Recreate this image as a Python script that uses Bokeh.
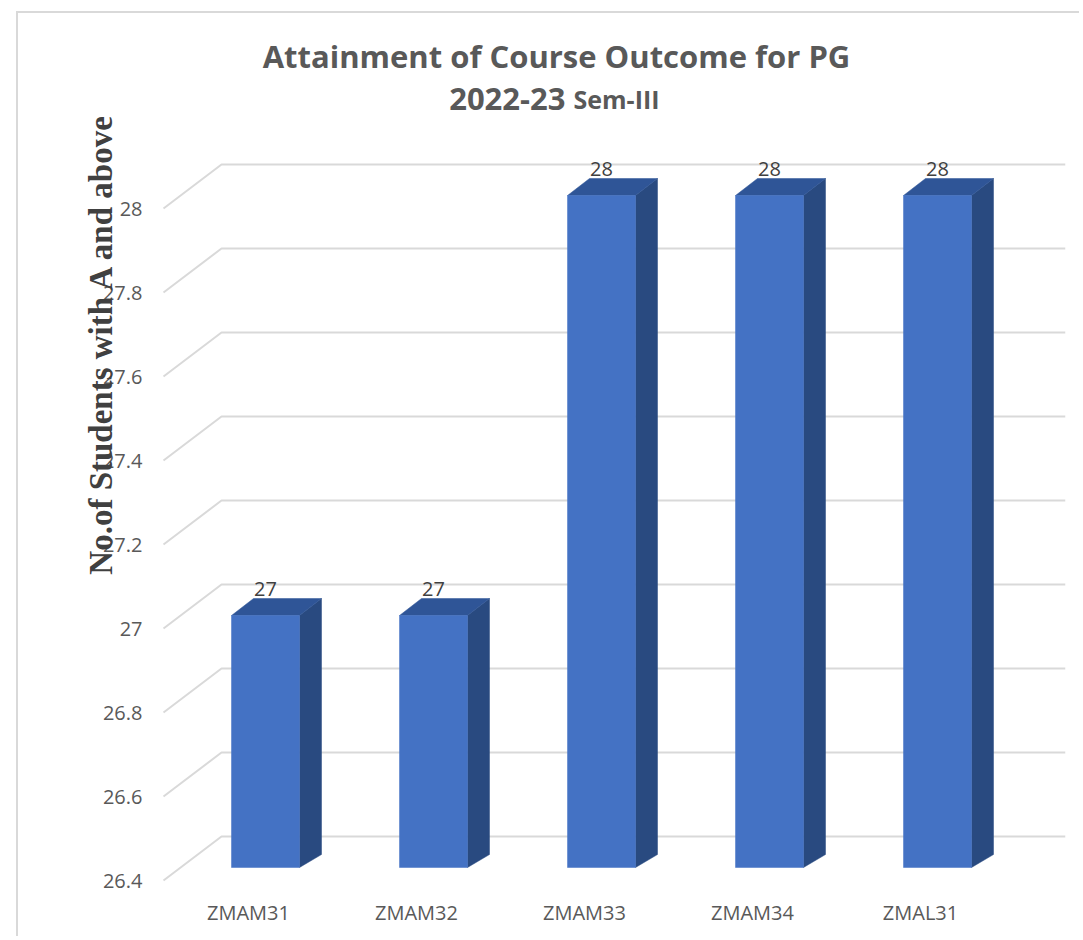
import math
from bokeh.plotting import figure
from bokeh.models import Label, FixedTicker, ColumnDataSource, Range1d
from bokeh.embed import file_html
from bokeh.resources import INLINE
from bokeh.core.properties import value

# ---------------- data ----------------
categories = ["ZMAM31", "ZMAM32", "ZMAM33", "ZMAM34", "ZMAL31"]
students = [27, 27, 28, 28, 28]
y_ticks = [26.4, 26.6, 26.8, 27.0, 27.2, 27.4, 27.6, 27.8, 28.0]
y_tick_labels = ["26.4", "26.6", "26.8", "27", "27.2", "27.4", "27.6", "27.8", "28"]
title_line1 = "Attainment of Course Outcome for PG"
title_year = "2022-23"
title_sem = "Sem-III"
y_title = "No.of Students with A  and above"

# ---------------- page layout (pixels) ----------------
CANVAS_X, CANVAS_Y = 18, 13          # page position of the canvas
W, H = 1063, 925
PX0, PXU = 248, 168                  # page x of category 0, px per category
PY0, PYU = 880, 420                  # page y of axis minimum, px per unit
Y_MIN = y_ticks[0]
FRAME_LEFT, FRAME_RIGHT, FRAME_TOP, FRAME_BOTTOM = 78, 1065, 13, 896
BASE_FIX = 11                        # svg alphabetic-baseline correction (px)


def ux(px):
    return (px - PX0) / PXU


def uy(py):
    return Y_MIN + (PY0 - py) / PYU


X_START, X_END = ux(FRAME_LEFT), ux(FRAME_RIGHT)
Y_START, Y_TOP = uy(FRAME_BOTTOM), uy(FRAME_TOP)
X_FRONT = ux(163)                    # front edge of the floor / grid diagonals
Y_AXIS_AT = ux(142)                  # right edge of the y tick labels

# 3D geometry (axis units)
BACK_DX, BACK_DY = 58 / PXU, 44 / PYU
BAR_DX, BAR_DY = 17 / PXU, 13 / PYU
BAR_HALF = 34 / PXU
SIDE_DX, TOP_DY, BOTTOM_DY = 22 / PXU, 17 / PYU, 13 / PYU
FRONT = "#4472C4"
TOP = "#2F5597"
SIDE = "#294A80"
GRID = "#D9D9D9"
TXT = "#595959"

p = figure(width=W, height=H, output_backend="svg", toolbar_location=None,
           x_range=Range1d(X_START, X_END), y_range=Range1d(Y_START, Y_TOP),
           min_border=0,
           min_border_left=FRAME_LEFT - CANVAS_X,
           min_border_right=CANVAS_X + W - FRAME_RIGHT,
           min_border_top=FRAME_TOP - CANVAS_Y,
           min_border_bottom=CANVAS_Y + H - FRAME_BOTTOM)
p.styles = {"margin-left": "16px", "margin-top": "11px",
            "border-left": "2px solid #D9D9D9", "border-top": "2px solid #D9D9D9"}
p.outline_line_color = None
p.xgrid.visible = False
p.ygrid.visible = False
p.background_fill_color = "white"
p.border_fill_color = "white"

# perspective gridlines
gx, gy = [], []
for t in y_ticks:
    gx.append([X_FRONT, X_FRONT + BACK_DX, X_END])
    gy.append([t, t + BACK_DY, t + BACK_DY])
p.multi_line(xs=gx, ys=gy, line_color=GRID, line_width=2)

# bars
idx = list(range(len(categories)))
xl = [i + BAR_DX - BAR_HALF for i in idx]
xr = [i + BAR_DX + BAR_HALF for i in idx]
yb = [Y_MIN + BAR_DY for _ in idx]
yt = [v + BAR_DY for v in students]

top_xs = [[l, r, r + SIDE_DX, l + SIDE_DX] for l, r in zip(xl, xr)]
top_ys = [[t, t, t + TOP_DY, t + TOP_DY] for t in yt]
side_xs = [[r, r + SIDE_DX, r + SIDE_DX, r] for r in xr]
side_ys = [[b, b + BOTTOM_DY, t + TOP_DY, t] for b, t in zip(yb, yt)]

p.patches(xs=side_xs, ys=side_ys, fill_color=SIDE, line_color=SIDE, line_width=0.5)
p.patches(xs=top_xs, ys=top_ys, fill_color=TOP, line_color=TOP, line_width=0.5)
p.quad(left=xl, right=xr, bottom=yb, top=yt, fill_color=FRONT, line_color=FRONT, line_width=0.5)

# data labels
src = ColumnDataSource(dict(x=[i + BAR_DX for i in idx],
                            y=[t + TOP_DY for t in yt],
                            txt=[str(v) for v in students]))
p.text(x="x", y="y", text="txt", source=src, text_align="center", text_baseline="alphabetic",
       y_offset=-10, text_font=value("Open Sans"), text_font_size="20px", text_color="#404040")

# axes
p.yaxis.ticker = FixedTicker(ticks=y_ticks)
p.yaxis.major_label_overrides = {t: s for t, s in zip(y_ticks, y_tick_labels)}
p.yaxis.fixed_location = Y_AXIS_AT
p.yaxis.major_label_standoff = 0
p.xaxis.ticker = FixedTicker(ticks=idx)
p.xaxis.major_label_overrides = {i: c for i, c in zip(idx, categories)}
p.xaxis.major_label_standoff = 2
for ax in (p.xaxis[0], p.yaxis[0]):
    ax.axis_line_color = None
    ax.major_tick_line_color = None
    ax.minor_tick_line_color = None
    ax.major_tick_in = 0
    ax.major_tick_out = 0
    ax.major_label_text_font = "Open Sans"
    ax.major_label_text_font_size = "20px"
    ax.major_label_text_color = TXT

# y-axis title (overlapping tick labels like the original)
p.add_layout(Label(x=ux(100), y=uy(339), text=y_title,
                   angle=math.pi / 2, text_align="center", text_baseline="middle",
                   text_font="Liberation Serif", text_font_style="bold",
                   text_font_size="33px", text_color="#404040"))

# chart title
p.add_layout(Label(x=ux(556), y=uy(66 - BASE_FIX), text=title_line1,
                   text_align="center", text_baseline="alphabetic",
                   text_font="Open Sans", text_font_style="bold",
                   text_font_size="31px", text_color=TXT))
p.add_layout(Label(x=ux(565), y=uy(109 - BASE_FIX), text=title_year,
                   text_align="right", text_baseline="alphabetic",
                   text_font="Open Sans", text_font_style="bold",
                   text_font_size="31px", text_color=TXT))
p.add_layout(Label(x=ux(573), y=uy(109 - BASE_FIX), text=title_sem,
                   text_align="left", text_baseline="alphabetic",
                   text_font="Open Sans", text_font_style="bold",
                   text_font_size="25px", text_color=TXT))

open("out.html", "w").write(file_html(p, INLINE))
